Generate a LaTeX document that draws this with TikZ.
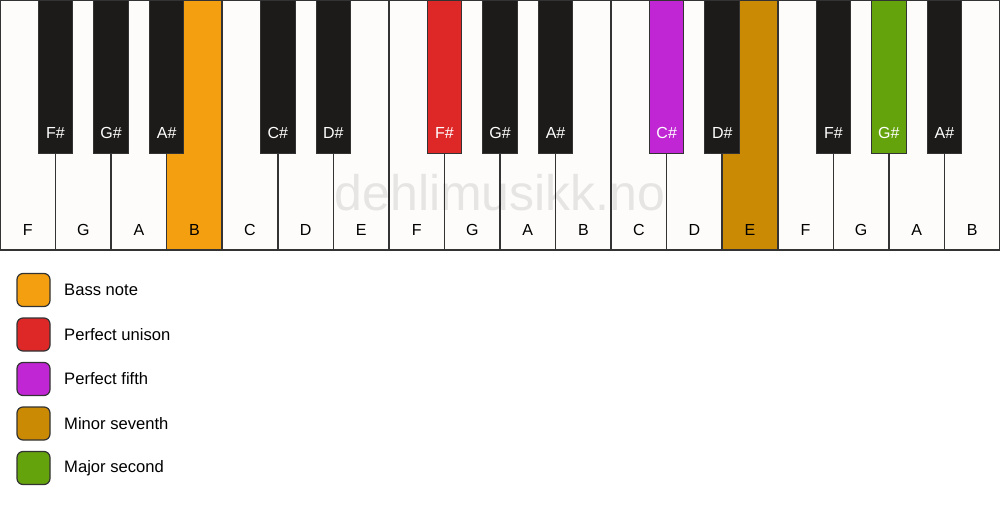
\documentclass[tikz,border=0pt]{standalone}
\usepackage{fontspec}
\setmainfont{Liberation Sans}
\definecolor{wkfill}{HTML}{FDFCFA}
\definecolor{bkfill}{HTML}{1C1B19}
\definecolor{edge}{HTML}{333333}
\definecolor{bass}{HTML}{F49F0F}
\definecolor{unison}{HTML}{DE2828}
\definecolor{fifth}{HTML}{C026D3}
\definecolor{seventh}{HTML}{CA8A04}
\definecolor{second}{HTML}{65A30D}
\tikzset{
  whitekey/.style={draw=edge, line width=1.6pt, minimum width=55.556pt, minimum height=250pt, inner sep=0pt, outer sep=0pt},
  blackkey/.style={draw=edge, line width=1pt, minimum width=34.5pt, minimum height=153pt, inner sep=0pt, outer sep=0pt},
  wlabel/.style={font=\fontsize{16}{19}\selectfont, text=black, inner sep=0pt},
  blabel/.style={font=\fontsize{16}{19}\selectfont, text=white, inner sep=0pt},
  legbox/.style={draw=edge, line width=1.2pt, rounded corners=6pt, minimum width=33pt, minimum height=33pt, inner sep=0pt},
  legtext/.style={font=\fontsize{16.6}{19}\selectfont, anchor=west, inner sep=0pt}
}
\begin{document}
\begin{tikzpicture}[x=1pt,y=-1pt]
\useasboundingbox (0,0) rectangle (1000,506);
% white keys
\foreach \i/\n/\c in {0/F/wkfill,1/G/wkfill,2/A/wkfill,3/B/bass,4/C/wkfill,5/D/wkfill,6/E/wkfill,7/F/wkfill,8/G/wkfill,9/A/wkfill,10/B/wkfill,11/C/wkfill,12/D/wkfill,13/E/seventh,14/F/wkfill,15/G/wkfill,16/A/wkfill,17/B/wkfill}{
  \node[whitekey, fill=\c] (w\i) at ({\i*55.556+27.778},125) {};
  \node[wlabel] (wl\i) at ({\i*55.556+27.778},230) {\n};
}
% watermark
\node[font=\fontsize{50}{56}\selectfont, text=black, opacity=0.09, inner sep=0pt] (wm) at (500,193) {dehlimusikk.no};
% black keys
\foreach \b/\n/\c in {1/F\#/bkfill,2/G\#/bkfill,3/A\#/bkfill,5/C\#/bkfill,6/D\#/bkfill,8/F\#/unison,9/G\#/bkfill,10/A\#/bkfill,12/C\#/fifth,13/D\#/bkfill,15/F\#/bkfill,16/G\#/second,17/A\#/bkfill}{
  \node[blackkey, fill=\c] (b\b) at ({\b*55.556},76.5) {};
  \node[blabel] (bl\b) at ({\b*55.556},133) {\n};
}
% legend
\foreach \k/\c/\t in {0/bass/Bass note,1/unison/Perfect unison,2/fifth/Perfect fifth,3/seventh/Minor seventh,4/second/Major second}{
  \node[legbox, fill=\c] (lb\k) at (33.5,{290+\k*44.5}) {};
  \node[legtext] (lt\k) at (64,{290+\k*44.5}) {\t};
}
\end{tikzpicture}
\end{document}
